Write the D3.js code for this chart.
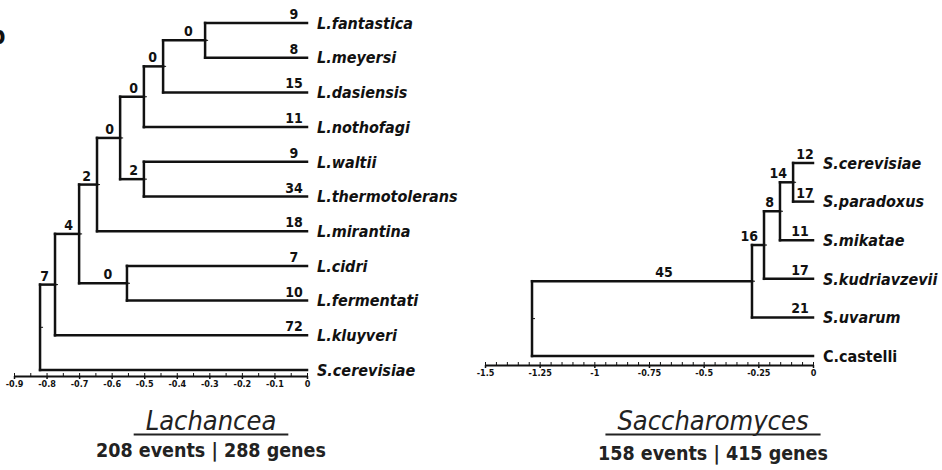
<!DOCTYPE html>
<html>
<head>
<meta charset="utf-8">
<script src="https://cdn.jsdelivr.net/npm/d3@7"></script>
<style>
    body { margin: 0; background: #fff; }
    svg { display: block; }
    text { font-family: "DejaVu Sans Condensed", "DejaVu Sans", sans-serif; }
</style>
</head>
<body>
<svg id="chart" width="942" height="470"></svg>
<script>
// Lachancea tree: node ids, parents, position on the axis, events on incoming branch
const lachIds = ['root', 'n1', 'n2', 'n3', 'n4', 'n5', 'n6', 'n7', 'n8', 'n9',
    'L.fantastica', 'L.meyersi', 'L.dasiensis', 'L.nothofagi', 'L.waltii', 'L.thermotolerans',
    'L.mirantina', 'L.cidri', 'L.fermentati', 'L.kluyveri', 'S.cerevisiae']
const lachParents = ['', 'root', 'n1', 'n2', 'n3', 'n4', 'n5', 'n6', 'n4', 'n2',
    'n7', 'n7', 'n6', 'n5', 'n8', 'n8', 'n3', 'n9', 'n9', 'n1', 'root']
const lachDepths = [-0.82, -0.774, -0.70, -0.645, -0.574, -0.501, -0.442, -0.313, -0.501, -0.553,
    0, 0, 0, 0, 0, 0, 0, 0, 0, 0, 0]
const lachEvents = [null, 7, 4, 2, 0, 0, 0, 0, 2, 0,
    9, 8, 15, 11, 9, 34, 18, 7, 10, 72, null]
const lachTicks = [-0.9, -0.8, -0.7, -0.6, -0.5, -0.4, -0.3, -0.2, -0.1, 0]

// Saccharomyces tree
const sacIds = ['root', 'a', 'b', 'c', 'd',
    'S.cerevisiae', 'S.paradoxus', 'S.mikatae', 'S.kudriavzevii', 'S.uvarum', 'C.castelli']
const sacParents = ['', 'root', 'a', 'b', 'c', 'd', 'd', 'c', 'b', 'a', 'root']
const sacDepths = [-1.285, -0.279, -0.224, -0.151, -0.091, 0, 0, 0, 0, 0, 0]
const sacEvents = [null, 45, 16, 8, 14, 12, 17, 11, 17, 21, null]
const sacTicks = [-1.5, -1.25, -1, -0.75, -0.5, -0.25, 0]

const svg = d3.select('#chart')

function buildTree(ids, parents, depths, events) {
    const rows = ids.map((id, i) => ({ id: id, parent: parents[i], depth: depths[i], events: events[i] }))
    return d3.stratify().id(d => d.id).parentId(d => d.parent || null)(rows)
}

function drawTree(root, opt) {
    const g = svg.append('g')
    const x = d3.scaleLinear().domain(opt.domain).range(opt.xRange)
    const leaves = root.leaves()
    const y = d3.scaleLinear().domain([0, leaves.length - 1]).range(opt.yRange)

    leaves.forEach((l, i) => l.y = y(i))
    root.eachAfter(n => {
        n.x = x(n.data.depth)
        if (n.children) n.y = (n.children[0].y + n.children[n.children.length - 1].y) / 2
    })

    const ink = '#111'
    // horizontal branches
    g.selectAll('.branch')
        .data(root.descendants().filter(n => n.parent))
        .enter()
        .append('line')
        .attr('x1', n => n.parent.x)
        .attr('x2', n => n.x)
        .attr('y1', n => n.y)
        .attr('y2', n => n.y)
        .attr('stroke', ink)
        .attr('stroke-width', 2.5)
        .attr('stroke-linecap', 'square')
    // vertical connectors
    g.selectAll('.connector')
        .data(root.descendants().filter(n => n.children))
        .enter()
        .append('line')
        .attr('x1', n => n.x)
        .attr('x2', n => n.x)
        .attr('y1', n => n.children[0].y)
        .attr('y2', n => n.children[n.children.length - 1].y)
        .attr('stroke', ink)
        .attr('stroke-width', 2.5)
        .attr('stroke-linecap', 'square')
    // tiny node marks
    g.selectAll('.mark')
        .data(root.descendants().filter(n => n.children))
        .enter()
        .append('rect')
        .attr('x', n => n.x - 1)
        .attr('y', n => n.y - 0.5)
        .attr('width', 4)
        .attr('height', 1)
        .attr('fill', ink)

    // leaf names
    g.selectAll('.leaf')
        .data(leaves)
        .enter()
        .append('text')
        .attr('x', n => n.x + 10)
        .attr('y', n => n.y)
        .attr('dy', '0.36em')
        .attr('font-size', 16)
        .attr('font-weight', 'bold')
        .attr('font-style', n => opt.upright.includes(n.id) ? 'normal' : 'italic')
        .attr('fill', ink)
        .text(n => n.id)

    // event counts on branches
    g.selectAll('.events')
        .data(root.descendants().filter(n => n.parent && n.data.events !== null))
        .enter()
        .append('text')
        .attr('y', n => n.y - 4)
        .attr('text-anchor', 'middle')
        .attr('font-size', 14)
        .attr('font-weight', 'bold')
        .attr('fill', ink)
        .text(n => n.data.events)
        .each(function (n) {
            const w = this.getComputedTextLength()
            let cx
            if (n.children) {
                cx = Math.min(n.parent.x + 0.6 * (n.x - n.parent.x), n.x - 6 - w / 2)
            } else {
                cx = Math.max(n.x - 13, n.parent.x + 12)
            }
            d3.select(this).attr('x', cx)
        })

    // axis
    const axisG = g.append('g').attr('transform', 'translate(0,' + opt.axisY + ')')
    const minor = d3.range(opt.domain[0], opt.domain[1] + 1e-9, opt.minorStep)
    axisG.append('g')
        .call(d3.axisBottom(x).tickValues(minor).tickSize(-3).tickSizeOuter(0).tickFormat(''))
        .call(a => a.select('.domain').attr('stroke', ink).attr('stroke-width', 2))
        .call(a => a.selectAll('.tick line').attr('stroke', ink).attr('stroke-width', 1))
    axisG.append('g')
        .call(d3.axisBottom(x).tickValues(opt.ticks).tickSize(3).tickPadding(2).tickFormat(d => String(d)))
        .call(a => a.select('.domain').remove())
        .call(a => a.selectAll('.tick line').attr('stroke', ink).attr('stroke-width', 1.5))
        .call(a => a.selectAll('.tick text')
            .attr('font-family', '"DejaVu Sans Condensed", "DejaVu Sans", sans-serif')
            .attr('font-size', 9)
            .attr('font-weight', 'bold')
            .attr('fill', ink))

    // title and summary
    const title = g.append('text')
        .attr('x', opt.titleX)
        .attr('y', 430)
        .attr('text-anchor', 'middle')
        .attr('font-size', 27)
        .attr('font-style', 'italic')
        .attr('fill', '#222')
        .text(opt.title)
    const tw = title.node().getComputedTextLength()
    g.append('line')
        .attr('x1', opt.titleX - tw / 2 - 12)
        .attr('x2', opt.titleX + tw / 2 + 12)
        .attr('y1', 434.5)
        .attr('y2', 434.5)
        .attr('stroke', '#222')
        .attr('stroke-width', 2)
    g.append('text')
        .attr('x', opt.titleX)
        .attr('y', opt.summaryY)
        .attr('text-anchor', 'middle')
        .attr('font-size', 19.5)
        .attr('font-weight', 'bold')
        .attr('fill', '#222')
        .text(opt.summary)
}

drawTree(buildTree(lachIds, lachParents, lachDepths, lachEvents), {
    domain: [-0.9, 0], xRange: [14, 307], yRange: [23, 370], axisY: 376,
    ticks: lachTicks, minorStep: 0.05, upright: [],
    title: 'Lachancea', titleX: 211, summary: '208 events | 288 genes', summaryY: 457
})

drawTree(buildTree(sacIds, sacParents, sacDepths, sacEvents), {
    domain: [-1.5, 0], xRange: [485, 813], yRange: [163, 356], axisY: 365,
    ticks: sacTicks, minorStep: 0.05, upright: ['C.castelli'],
    title: 'Saccharomyces', titleX: 713, summary: '158 events | 415 genes', summaryY: 460
})

// cut-off panel letter at the left edge
svg.append('text')
    .attr('x', -10).attr('y', 44)
    .attr('font-size', 24).attr('font-weight', 'bold').attr('fill', '#111')
    .text('b')
</script>
</body>
</html>
